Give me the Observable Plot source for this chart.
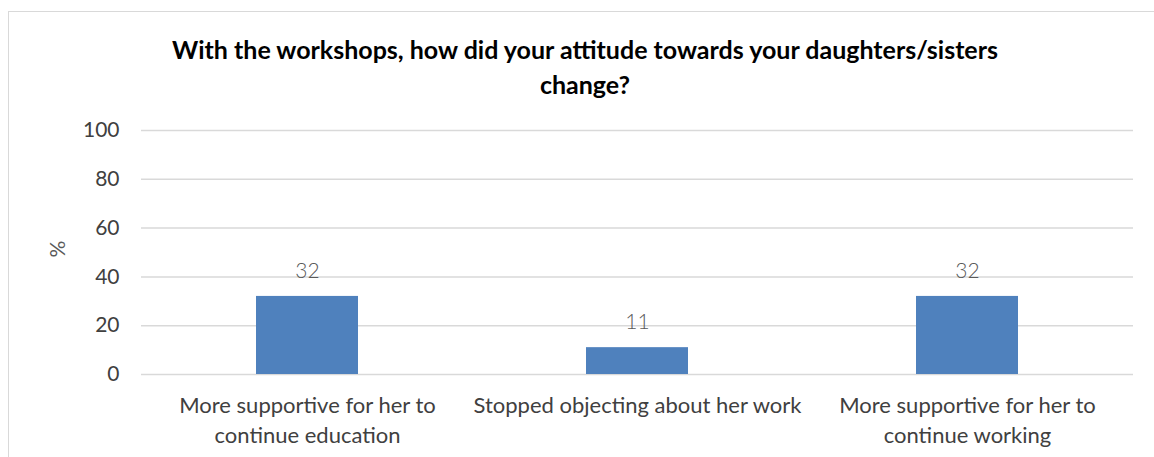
<!DOCTYPE html>
<html>
<head>
<meta charset="utf-8">
<script src="https://cdn.jsdelivr.net/npm/d3@7"></script>
<script src="https://cdn.jsdelivr.net/npm/@observablehq/plot@0.6"></script>
<style>
  html, body { margin: 0; padding: 0; background: #fff; }
  #wrap { position: relative; width: 1154px; height: 457px; overflow: hidden; font-family: Lato, "Open Sans", sans-serif; }
  #frame { position: absolute; left: 8px; top: 11px; width: 1160px; height: 460px; border: 1px solid #d9d9d9; box-sizing: border-box; }
  #title { position: absolute; left: 0; width: 1170px; top: 32px; text-align: center; font-weight: bold; font-size: 25px; line-height: 35px; color: #000; }
  #chart { position: absolute; left: 0; top: 0; }
</style>
</head>
<body>
<div id="wrap">
  <div id="frame"></div>
  <div id="chart"></div>
  <div id="title">With the workshops, how did your attitude towards your daughters/sisters<br>change?</div>
</div>
<script>
const categories = [
  "More supportive for her to continue education",
  "Stopped objecting about her work",
  "More supportive for her to continue working"
];
const tickLabels = [
  "More supportive for her to\ncontinue education",
  "Stopped objecting about her work",
  "More supportive for her to\ncontinue working"
];
const values = [32, 11, 32];
const yTicks = [0, 20, 40, 60, 80, 100];
const yLabel = "%";

const data = categories.map((c, i) => ({category: c, value: values[i]}));
const labelMap = new Map(categories.map((c, i) => [c, tickLabels[i]]));

const chart = Plot.plot({
  width: 1154,
  height: 457,
  marginLeft: 141,
  marginRight: 21,
  marginTop: 130,
  marginBottom: 83,
  style: {fontFamily: "Lato, 'Open Sans', sans-serif", background: "transparent", overflow: "visible"},
  x: {domain: categories, paddingInner: 0.69, paddingOuter: 0.345, label: null},
  y: {domain: [0, 100], label: null},
  marks: [
    Plot.ruleY(yTicks, {stroke: "#d9d9d9", strokeWidth: 1.5}),
    Plot.barY(data, {x: "category", y: "value", fill: "#4f81bd"}),
    Plot.text(data, {x: "category", y: "value", text: d => String(d.value), dy: -25, fill: "#595959", fontSize: 21, fontWeight: 300}),
    Plot.axisY({ticks: yTicks, tickSize: 0, tickPadding: 22, fontSize: 21, fill: "#404040", label: null}),
    Plot.axisX({tickSize: 0, tickPadding: 17, fontSize: 22, fill: "#404040", lineHeight: 1.38, tickFormat: d => labelMap.get(d), label: null, textAnchor: "middle"}),
    Plot.text([yLabel], {frameAnchor: "left", dx: -83, dy: 5, rotate: -90, fontSize: 21, fill: "#595959"})
  ]
});
document.getElementById("chart").appendChild(chart);
</script>
</body>
</html>
